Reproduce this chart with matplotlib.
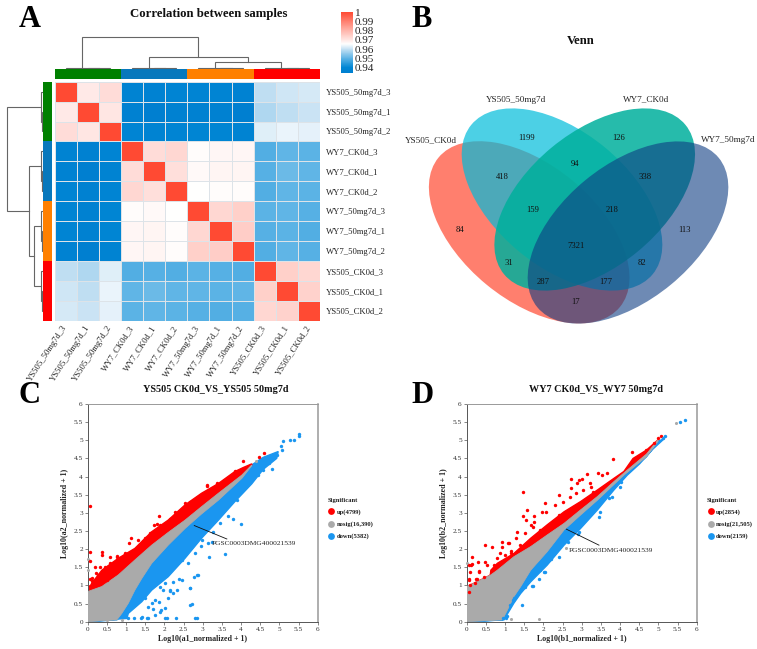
import numpy as np
import matplotlib
matplotlib.use("Agg")
import matplotlib.pyplot as plt
from matplotlib.colors import LinearSegmentedColormap, ListedColormap
from matplotlib.patches import Ellipse
from matplotlib.lines import Line2D
from matplotlib.transforms import ScaledTranslation

plt.rcParams['font.family'] = ['Liberation Serif', 'DejaVu Serif']

W, H = 757, 649
TXT = '#222222'

# ---------- A: correlation heatmap
samples = ['YS505_50mg7d_3', 'YS505_50mg7d_1', 'YS505_50mg7d_2',
           'WY7_CK0d_3', 'WY7_CK0d_1', 'WY7_CK0d_2',
           'WY7_50mg7d_3', 'WY7_50mg7d_1', 'WY7_50mg7d_2',
           'YS505_CK0d_3', 'YS505_CK0d_1', 'YS505_CK0d_2']
corr = [
    [1.000, .9695, .9720, .9380, .9370, .9385, .9385, .9385, .9370, .9595, .9610, .9615],
    [.9695, 1.000, .9700, .9360, .9350, .9365, .9365, .9365, .9350, .9580, .9595, .9605],
    [.9720, .9700, 1.000, .9385, .9375, .9385, .9390, .9390, .9375, .9625, .9635, .9630],
    [.9380, .9360, .9385, 1.000, .9720, .9730, .9660, .9670, .9670, .9490, .9505, .9500],
    [.9370, .9350, .9375, .9720, 1.000, .9715, .9665, .9675, .9675, .9495, .9515, .9505],
    [.9385, .9365, .9385, .9730, .9715, 1.000, .9655, .9660, .9660, .9490, .9505, .9500],
    [.9385, .9365, .9390, .9660, .9665, .9655, 1.000, .9730, .9745, .9500, .9505, .9495],
    [.9385, .9365, .9390, .9670, .9675, .9660, .9730, 1.000, .9750, .9495, .9500, .9490],
    [.9370, .9350, .9375, .9670, .9675, .9660, .9745, .9750, 1.000, .9490, .9505, .9495],
    [.9595, .9580, .9625, .9490, .9495, .9490, .9500, .9495, .9490, 1.000, .9745, .9730],
    [.9610, .9595, .9635, .9505, .9515, .9505, .9505, .9500, .9505, .9745, 1.000, .9740],
    [.9615, .9605, .9630, .9500, .9505, .9500, .9495, .9490, .9495, .9730, .9740, 1.000],
]
groups = [0, 0, 0, 1, 1, 1, 2, 2, 2, 3, 3, 3]
group_colors = ['#008000', '#0878BC', '#FF8000', '#FF0000']
cbar_ticks = [0.94, 0.95, 0.96, 0.97, 0.98, 0.99, 1]
cbar_labels = ['0.94', '0.95', '0.96', '0.97', '0.98', '0.99', '1']

# dendrograms: left pos, left height, right pos, right height, top height
top_tree = [(1.5, 0, 2.5, 0, .8), (.5, 0, 2, .8, 1.3),
            (4.5, 0, 5.5, 0, .8), (3.5, 0, 5, .8, 1.3),
            (7.5, 0, 8.5, 0, .8), (6.5, 0, 8, .8, 1.3),
            (10.5, 0, 11.5, 0, .8), (9.5, 0, 11, .8, 1.3),
            (7.25, 1.3, 10.25, 1.3, 7.3), (4.25, 1.3, 8.75, 7.3, 12),
            (1.25, 1.3, 6.5, 12, 32)]
left_tree = [(1.5, 0, 2.5, 0, 1.2), (.5, 0, 2, 1.2, 2),
             (4.5, 0, 5.5, 0, 1.2), (3.5, 0, 5, 1.2, 2),
             (7.5, 0, 8.5, 0, 1.2), (6.5, 0, 8, 1.2, 2),
             (10.5, 0, 11.5, 0, 1.2), (9.5, 0, 11, 1.2, 2),
             (7.25, 2, 10.25, 2, 8.3), (4.25, 2, 8.75, 8.3, 13.7),
             (1.25, 2, 6.5, 13.7, 35.3)]

# ---------- B: Venn
venn_names = ['YS505_CK0d', 'YS505_50mg7d', 'WY7_CK0d', 'WY7_50mg7d']
venn_counts = [84, 1199, 126, 113, 418, 94, 338, 159, 218, 7321, 31, 82, 287, 177, 17]
venn_count_x = [459.7, 526.7, 619, 684.7, 502.7, 575.3, 645, 533, 612, 575.7, 509.3, 641.7, 542.7, 605.7, 575.7]
venn_count_y = [229.7, 137.7, 137.7, 229.7, 177, 163.7, 177, 210, 210, 246, 262.7, 262.7, 282.3, 282.3, 302]
venn_name_x = [431, 516, 646, 728]
venn_name_y = [140.5, 100, 99, 140.5]
venn_cx = [529.2, 562, 594.7, 628]
venn_cy = [232.3, 199.5, 199.5, 232.5]
venn_angle = [39.5, 39.5, -39.5, -39.5]
venn_colors = ['#FF7F6E', '#00BCDA', '#00B09C', '#0D3C82']
venn_alpha = [1, .7, .85, .6]

# ---------- C: scatter (dense clouds read as outlines, sparse points read one by one)
c_red_up_x = [.10, .37, .80, 1.23, 1.67, 2.10, 2.54, 2.97, 3.41, 3.84, 4.06, 4.28]
c_red_up_y = [1.05, 1.42, 1.75, 2.02, 2.48, 2.80, 3.22, 3.54, 3.81, 4.14, 4.25, 4.35]
c_grey_up_x = [0, .37, .80, 1.23, 1.67, 2.10, 2.54, 2.97, 3.41, 4.02, 4.28]
c_grey_up_y = [.83, .97, 1.29, 1.70, 2.11, 2.46, 2.80, 3.17, 3.54, 4.04, 4.32]
c_grey_lo_x = [4.28, 4.02, 3.41, 2.97, 2.54, 2.10, 1.67, 1.41, 1.23, 1.06, .89, .76, 0]
c_grey_lo_y = [4.30, 3.95, 3.35, 2.97, 2.57, 2.11, 1.61, 1.19, .87, .51, .23, .05, 0]
c_blue_lo_x = [.76, 1.02, 1.06, 1.41, 1.67, 2.10, 2.54, 2.97, 3.41, 3.84, 4.28, 4.58, 4.93, 4.97, 4.58, 4.28]
c_blue_lo_y = [.07, .09, .23, .55, .87, 1.24, 1.75, 2.30, 2.80, 3.31, 3.80, 4.20, 4.50, 4.69, 4.53, 4.32]
c_red_x = [.06, .05, .06, .38, .32, .21, .10, .05, 1.14, 1.09, 1.87, 1.74, .76, .97, .58, .41, .50, 3.38, 3.10,
           4.06, 4.60, 4.46, 2.93, .15, .28, .65, .85, 1.05, 1.30, 1.45, 1.62, 2.15, 2.4, 2.85, 3.2, 3.55, 3.85,
           .37, .19, .58, .45, .76, .97, 1.5, 1.8, 2.54, 2.67, 3.1, 3.37, .06, .19, .10, 1.32, 2.28, 1.89]
c_red_y = [3.19, 1.93, 1.67, 1.84, 1.52, 1.35, 1.20, .98, 2.32, 2.16, 2.90, 2.67, 1.82, 1.87, 1.61, 1.43, 1.15,
           3.82, 3.75, 4.44, 4.65, 4.53, 3.45, 1.12, 1.28, 1.55, 1.72, 1.80, 2.02, 2.22, 2.45, 2.82, 3.05, 3.42, 3.62, 3.88, 4.15,
           1.93, 1.52, 1.79, 1.52, 1.79, 1.88, 2.30, 2.69, 3.26, 3.29, 3.77, 3.80, 1.19, 1.06, 1.13, 2.25, 3.03, 2.67]
c_blue_x = [4.0, 3.58, 3.17, 3.28, 3.8, 3.67, 3.15, 2.89, 2.67, 2.71, 2.8, 2.86, 2.3, 2.02, 2.32, 2.1, 1.91, 5.1,
            5.28, 5.39, 5.5, 5.5, 5.04, 5.06, 4.8, 4.58, 4.93, 4.19, 1.2, 1.38, 1.55, 1.7, 1.85, 2.15, 2.45, 2.62, 2.95, 3.45, 3.9, 4.45, 4.72,
            2.02, 1.89, 1.97, 2.23, 2.37, 2.76, 2.84, 2.67, 2.23, 2.02, 1.89, 2.67, 1.76, 1.41, 1.67, 1.50, 2.06, 1.58, 1.06, 3.23, 2.8, 2.45, 2.97, 2.15, 1.76, 1.58]
c_blue_y = [2.7, 1.86, 1.78, 2.48, 2.83, 2.90, 2.18, 1.29, .92, .48, .09, .09, .09, .09, .87, .64, .32, 4.98,
            5.0, 5.0, 5.17, 5.12, 4.84, 4.73, 4.22, 4.18, 4.6, 3.9, .09, .09, .09, .35, .55, .85, 1.15, 1.62, 2.08, 2.72, 3.35, 4.05, 4.38,
            1.06, .97, .87, 1.10, 1.19, 1.22, 1.29, .92, .78, .37, .28, .46, .18, .14, .51, .64, .11, .09, .09, 2.21, 1.88, 1.70, 2.25, .87, .60, .41]
c_grey_x = [0, 0, .5, .9, 4.4]
c_grey_y = [1.72, 1.42, .05, .05, 4.43]

# ---------- D
d_red_up_x = [.60, .63, .80, 1.23, 1.67, 2.10, 2.54, 2.97, 3.41, 3.84, 4.10, 4.34, 4.69, 4.99]
d_red_up_y = [1.15, 1.42, 1.61, 1.88, 2.30, 2.67, 3.03, 3.31, 3.63, 3.95, 4.14, 4.50, 4.73, 5.01]
d_grey_up_x = [0, .19, .63, .80, 1.23, 1.67, 2.10, 2.54, 2.97, 3.41, 3.84, 4.19, 4.69, 4.99]
d_grey_up_y = [.97, 1.06, 1.29, 1.42, 1.79, 2.07, 2.39, 2.71, 3.08, 3.45, 3.86, 4.18, 4.62, 5.01]
d_grey_lo_x = [4.99, 4.69, 4.10, 3.41, 2.97, 2.54, 2.10, 1.67, 1.41, 1.23, 1.06, .93, 0]
d_grey_lo_y = [4.97, 4.55, 4.04, 3.35, 2.94, 2.53, 1.93, 1.42, .97, .69, .32, .05, 0]
d_blue_lo_x = [.97, 1.23, 1.41, 1.67, 2.10, 2.54, 2.97, 3.41, 3.84, 4.19, 4.51, 4.86, 5.16]
d_blue_lo_y = [.05, .51, .78, 1.10, 1.56, 2.11, 2.57, 3.08, 3.63, 4.04, 4.35, 4.76, 5.05]
d_red_x = [1.47, 1.58, 1.48, 1.54, 1.75, 2.05, 2.3, 2.52, 2.06, 1.3, 1.28, .91, .49, .67, 1.08, .15, .15, .3, .49,
           .07, .09, .33, .24, .07, .09, .07, .22, 3.15, 3.0, 2.73, 2.89, 3.21, 3.43, 3.66, 3.82, 4.3, 2.69, 3.04,
           3.3, 5.0, 5.08, 4.88, 4.69, 1.52, 1.74, 1.91, 1.39, .7, 1.0, 1.15, 2.4, 2.85,
           .06, .12, .87, .93, 1.10, 1.15, 1.67, 1.76, 1.97, 2.41, 2.71, 2.93, 3.23, 3.54, .32, .45, .28, .54, .80]
d_red_y = [3.58, 3.08, 2.92, 2.80, 2.90, 3.28, 3.22, 3.31, 3.03, 2.48, 2.32, 2.20, 2.11, 2.07, 2.16, 1.79, 1.59, 1.65, 1.65,
           1.56, 1.38, 1.40, 1.19, 1.17, 1.01, .83, 1.06, 4.06, 3.93, 3.93, 3.81, 3.81, 4.09, 4.11, 4.48, 4.67, 3.45, 3.63,
           3.58, 5.07, 5.13, 4.92, 4.73, 2.44, 2.62, 2.53, 2.11, 1.55, 1.85, 1.95, 2.95, 3.55,
           1.15, 1.56, 1.88, 2.07, 2.16, 1.88, 2.67, 2.76, 3.03, 3.49, 3.68, 3.91, 3.72, 4.04, 1.38, 1.24, 1.19, 1.56, 1.75]
d_blue_x = [5.69, 5.56, 5.16, 5.12, 1.45, 1.22, 1.13, 1.02, .95, 1.06, 1.74, 1.91, 2.04, 1.52, 3.47, 3.78, 3.99, 2.2, 2.9, 3.45,
            1.23, 1.71, 2.02, 2.41, 2.93, 3.71, 4.02, 1.89, 2.15, 2.63]
d_blue_y = [5.56, 5.50, 5.12, 5.06, .46, .60, .46, .09, .09, .16, .98, 1.42, 1.38, .96, 3.03, 3.45, 3.72, 1.72, 2.42, 2.88,
            .64, .98, 1.38, 1.79, 2.48, 3.40, 3.86, 1.19, 1.70, 2.21]
d_grey_x = [5.45, 1.89, 1.15, 0, 2.58]
d_grey_y = [5.47, .07, .07, 1.63, 2.02]

c_legend = ['up(4799)', 'nosig(16,390)', 'down(5382)']
d_legend = ['up(2854)', 'nosig(21,505)', 'down(2159)']
pts_colors = ['#FF0000', '#AAAAAA', '#1A96F0']
ticks = [0, .5, 1, 1.5, 2, 2.5, 3, 3.5, 4, 4.5, 5, 5.5, 6]
tick_labels = ['0', '0.5', '1', '1.5', '2', '2.5', '3', '3.5', '4', '4.5', '5', '5.5', '6']

fig = plt.figure(figsize=(W / 100, H / 100), dpi=100, facecolor='white')


def pxax(x0, y0, x1, y1, **kw):
    return fig.add_axes([x0 / W, 1 - y1 / H, (x1 - x0) / W, (y1 - y0) / H], **kw)


def ftext(x, y, s, **kw):
    kw.setdefault('ha', 'center')
    kw.setdefault('va', 'center')
    kw.setdefault('color', TXT)
    return fig.text(x / W, 1 - y / H, s, **kw)


for s, x, y in [('A', 30, 27), ('B', 422, 27), ('C', 30, 403), ('D', 423, 403)]:
    ftext(x, y, s, fontsize=22, fontweight='bold', color='black', va='baseline')

# heatmap
vmin, vmax = .9345, 1.0
stops = [(.9345, '#007FD0'), (.94, '#0086D4'), (.95, '#5CB3E5'), (.96, '#C5E1F3'), (.9655, '#FFFFFF'),
         (.97, '#FFE6E3'), (.98, '#FFB5AB'), (1.0, '#FF4A33')]
cmap = LinearSegmentedColormap.from_list('c', [((v - vmin) / (vmax - vmin), c) for v, c in stops])
hx0, hx1, hy0, hy1 = 54.5, 320, 81.7, 320.7
ax = pxax(hx0, hy0, hx1, hy1)
m = ax.pcolormesh(np.array(corr), cmap=cmap, vmin=vmin, vmax=vmax, edgecolors='#DDE3E8', linewidth=.5)
ax.set_xlim(0, 12)
ax.set_ylim(12, 0)
ax.set_xticks(np.arange(12) + .5)
ax.set_xticklabels(samples, rotation=57, ha='right', rotation_mode='anchor', va='center', fontsize=6.2, color=TXT)
off = ScaledTranslation(4.5 / 100, 0, fig.dpi_scale_trans)
for t in ax.get_xticklabels():
    t.set_transform(t.get_transform() + off)
ax.set_yticks(np.arange(12) + .5)
ax.yaxis.tick_right()
ax.set_yticklabels(samples, fontsize=6.2, color=TXT)
ax.tick_params(length=0, pad=4)
for sp in ax.spines.values():
    sp.set_visible(False)

ga = pxax(hx0, 69.3, hx1, 79)
ga.pcolormesh(np.array([groups]), cmap=ListedColormap(group_colors), vmin=-.5, vmax=3.5)
ga.axis('off')
gl = pxax(42.7, hy0, 52.3, hy1)
gl.pcolormesh(np.array([groups]).T, cmap=ListedColormap(group_colors), vmin=-.5, vmax=3.5)
gl.set_ylim(12, 0)
gl.axis('off')

dt = pxax(hx0, 34, hx1, 69.3)
dt.set_xlim(0, 12)
dt.set_ylim(0, 35.3)
dt.axis('off')
for a, ha, b, hb, top in top_tree:
    dt.plot([a, a, b, b], [ha, top, top, hb], color='#666666', lw=.8, solid_joinstyle='miter')
dl = pxax(5, hy0, 42.7, hy1)
dl.set_ylim(12, 0)
dl.set_xlim(37.7, 0)
dl.axis('off')
for a, ha, b, hb, top in left_tree:
    dl.plot([ha, top, top, hb], [a, a, b, b], color='#666666', lw=.8, solid_joinstyle='miter')

ftext(209, 14.5, 'Correlation between samples', fontsize=9.2, fontweight='bold', color='#111111')

cax = pxax(340.7, 12, 353, 72.7)
cb = fig.colorbar(m, cax=cax, ticks=cbar_ticks, spacing='proportional')
cb.ax.set_yticklabels(cbar_labels, fontsize=8, color=TXT)
cb.ax.tick_params(length=0, pad=1.5)
cb.outline.set_visible(False)

# Venn
ftext(581, 40.5, 'Venn', fontsize=9.2, fontweight='bold', color='#111111')
va = pxax(400, 90, 740, 335)
va.set_xlim(400, 740)
va.set_ylim(335, 90)
va.axis('off')
for cx, cy, an, col, al in zip(venn_cx, venn_cy, venn_angle, venn_colors, venn_alpha):
    va.add_patch(Ellipse((cx, cy), 235, 135, angle=an, facecolor=col, alpha=al, edgecolor='none'))
for x, y, c in zip(venn_count_x, venn_count_y, venn_counts):
    va.text(x, y, str(c), ha='center', va='center', fontsize=6.2, color='#111111')
for x, y, n in zip(venn_name_x, venn_name_y, venn_names):
    ftext(x, y, n, fontsize=6.6)


def scatter_panel(x0, ttl, title_x, xlab, ylab, up, glo, rup, blo, red, blue, grey, arrow, txtpos, leg, lx):
    ax = pxax(x0, 404, x0 + 230, 621.7)
    ax.set_xlim(0, 6)
    ax.set_ylim(0, 6)
    ax.fill(np.r_[blo[0], glo[0]], np.r_[blo[1], glo[1]], color=pts_colors[2], lw=1, zorder=2)
    ax.fill(np.r_[rup[0], up[0][::-1]], np.r_[rup[1], up[1][::-1]], color=pts_colors[0], lw=1, zorder=2)
    ax.fill(np.r_[up[0], glo[0]], np.r_[up[1], glo[1]], color=pts_colors[1], lw=.6, zorder=3)
    ax.scatter(*grey, s=5, color=pts_colors[1], lw=0, zorder=4, clip_on=False)
    ax.scatter(*red, s=6, color=pts_colors[0], lw=0, zorder=4, clip_on=False)
    ax.scatter(*blue, s=6, color=pts_colors[2], lw=0, zorder=4, clip_on=False)
    ax.plot(arrow[0], arrow[1], color='#111111', lw=.6, zorder=5)
    ax.text(txtpos[0], txtpos[1], 'PGSC0003DMG400021539', fontsize=5.4, color=TXT, va='center', ha='left', zorder=5)
    ax.set_xticks(ticks)
    ax.set_xticklabels(tick_labels)
    ax.set_yticks(ticks)
    ax.set_yticklabels(tick_labels)
    ax.tick_params(labelsize=5.2, length=2, width=.5, pad=1.5, color='#555555', labelcolor='#333333')
    for k, sp in ax.spines.items():
        sp.set_color('#555555' if k in ('left', 'bottom') else '#999999')
        sp.set_linewidth(.7 if k in ('left', 'bottom', 'top') else 1.1)
    ftext(title_x, 389.5, ttl, fontsize=7.25, fontweight='bold', color='#111111')
    ftext(x0 + 115, 639, xlab, fontsize=5.7, fontweight='bold')
    ftext(x0 - 22.5, 513, ylab, fontsize=5.7, fontweight='bold', rotation=90)
    hs = [Line2D([], [], marker='o', ls='', color=c, ms=4.9, mew=0) for c in pts_colors]
    lg = ax.legend(hs, leg, title='Significant', loc='upper left',
                   bbox_to_anchor=(lx / W, 1 - 498 / H), bbox_transform=fig.transFigure,
                   frameon=False, borderpad=0, borderaxespad=0, labelspacing=.95,
                   handletextpad=.2, handlelength=1.2,
                   prop={'size': 4.7, 'weight': 'bold'},
                   title_fontproperties={'size': 4.7, 'weight': 'bold'})
    lg._legend_box.align = 'left'
    lg.get_title().set_color(TXT)
    for t in lg.get_texts():
        t.set_color(TXT)


scatter_panel(87.7, 'YS505 CK0d_VS_YS505 50mg7d', 216,
              'Log10(a1_normalized + 1)', 'Log10(a2_normalized + 1)',
              (c_grey_up_x, c_grey_up_y), (c_grey_lo_x, c_grey_lo_y), (c_red_up_x, c_red_up_y),
              (c_blue_lo_x, c_blue_lo_y), (c_red_x, c_red_y), (c_blue_x, c_blue_y), (c_grey_x, c_grey_y),
              ([2.78, 3.63], [2.65, 2.28]), (3.23, 2.16), c_legend, 327.5)
scatter_panel(466.7, 'WY7 CK0d_VS_WY7 50mg7d', 596,
              'Log10(b1_normalized + 1)', 'Log10(b2_normalized + 1)',
              (d_grey_up_x, d_grey_up_y), (d_grey_lo_x, d_grey_lo_y), (d_red_up_x, d_red_up_y),
              (d_blue_lo_x, d_blue_lo_y), (d_red_x, d_red_y), (d_blue_x, d_blue_y), (d_grey_x, d_grey_y),
              ([2.6, 3.45], [2.55, 2.11]), (2.65, 1.97), d_legend, 707)

fig.savefig('out.png', dpi=100)
